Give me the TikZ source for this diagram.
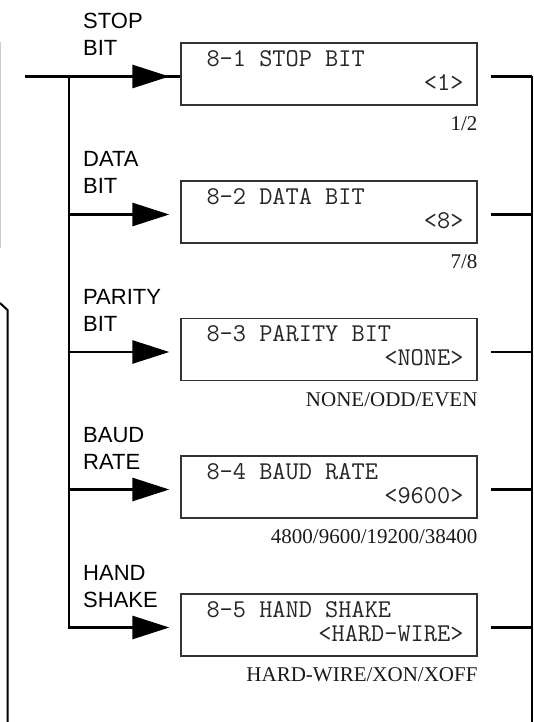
\documentclass[tikz,border=0pt]{standalone}
\usepackage{fontspec}
\setmainfont{Liberation Serif}
\newfontfamily\keyfont{Liberation Sans}
\usepackage{tikz}
\usetikzlibrary{arrows.meta,positioning}

\tikzset{
  menubox/.style={rectangle, draw=black!80, line width=1.3pt, minimum width=296pt, minimum height=62pt, inner sep=0pt},
  lcdtext/.style={font=\ttfamily\fontsize{25.6}{24}\selectfont, text=black!85, inner sep=0pt},
  keylabel/.style={font=\keyfont\fontsize{22}{27}\selectfont, align=left, inner sep=0pt, anchor=south west},
  choices/.style={font=\fontsize{21}{24}\selectfont, text=black!90, inner sep=0pt, anchor=base east},
  conn/.style={line width=2.7pt},
  arr/.style={-{Triangle[length=37pt,width=23pt]}},
}

\begin{document}
\begin{tikzpicture}[x=1pt,y=-1pt]
\useasboundingbox (0,0) rectangle (533,722);

% menu boxes
\node[menubox] (b1) at (329,74) {};
\node[menubox] (b2) at (329,212) {};
\node[menubox] (b3) at (329,349.5) {};
\node[menubox] (b4) at (329,487) {};
\node[menubox] (b5) at (329,625) {};

\node[lcdtext, anchor=base west] (t1) at ([xshift=26pt,yshift=-24pt]b1.north west) {8-1 STOP BIT};
\node[lcdtext, anchor=base east] (v1) at ([xshift=-14pt,yshift=-48pt]b1.north east) {<1>};
\node[lcdtext, anchor=base west] (t2) at ([xshift=26pt,yshift=-24pt]b2.north west) {8-2 DATA BIT};
\node[lcdtext, anchor=base east] (v2) at ([xshift=-14pt,yshift=-48pt]b2.north east) {<8>};
\node[lcdtext, anchor=base west] (t3) at ([xshift=26pt,yshift=-24pt]b3.north west) {8-3 PARITY BIT};
\node[lcdtext, anchor=base east] (v3) at ([xshift=-14pt,yshift=-48pt]b3.north east) {<NONE>};
\node[lcdtext, anchor=base west] (t4) at ([xshift=26pt,yshift=-24pt]b4.north west) {8-4 BAUD RATE};
\node[lcdtext, anchor=base east] (v4) at ([xshift=-14pt,yshift=-48pt]b4.north east) {<9600>};
\node[lcdtext, anchor=base west] (t5) at ([xshift=26pt,yshift=-24pt]b5.north west) {8-5 HAND SHAKE};
\node[lcdtext, anchor=base east] (v5) at ([xshift=-14pt,yshift=-48pt]b5.north east) {<HARD-WIRE>};

% possible settings
\node[choices] (c1) at ([yshift=-25pt]b1.south east) {1/2};
\node[choices] (c2) at ([yshift=-25pt]b2.south east) {7/8};
\node[choices] (c3) at ([yshift=-25pt]b3.south east) {NONE/ODD/EVEN};
\node[choices] (c4) at ([yshift=-25pt]b4.south east) {4800/9600/19200/38400};
\node[choices] (c5) at ([yshift=-25pt]b5.south east) {HARD-WIRE/XON/XOFF};

% key names
\node[keylabel] (k1) at (83,55.5) {STOP\\BIT};
\node[keylabel] (k2) at (83,193.5) {DATA\\BIT};
\node[keylabel] (k3) at (83,331.5) {PARITY\\BIT};
\node[keylabel] (k4) at (83,469.5) {BAUD\\RATE};
\node[keylabel] (k5) at (83,607.5) {HAND\\SHAKE};

% connectors
\foreach \i in {1,...,5} {
  \coordinate (a\i) at ([xshift=-11pt,yshift=-2.5pt]b\i.west);
  \coordinate (r\i) at ([xshift=13pt,yshift=-2.5pt]b\i.east);
}
\coordinate (in) at (25,76.5);
\coordinate (bus) at (69,76.5);
\coordinate (rtop) at (532,76.5);
\coordinate (rbot) at (532,722);

\draw[conn] (in) -- (b1.west |- a1);
\draw[conn,arr] (in) -- (a1);
\foreach \i in {2,3,4}
  \draw[conn,arr] (bus |- a\i) -- (a\i);
\draw[conn,arr,line join=miter] (bus) -- (bus |- a5) -- (a5);

\foreach \i in {1,...,5}
  \draw[conn] (r\i) -- (rtop |- r\i);
\draw[conn] (rtop) -- (rbot);

% edges of the neighbouring parts
\draw[black!20, line width=1.2pt] (0.6,42) -- (0.6,248);
\draw[line width=2pt] (0,303) -- (7.5,310) -- (7.5,722);
\end{tikzpicture}
\end{document}
